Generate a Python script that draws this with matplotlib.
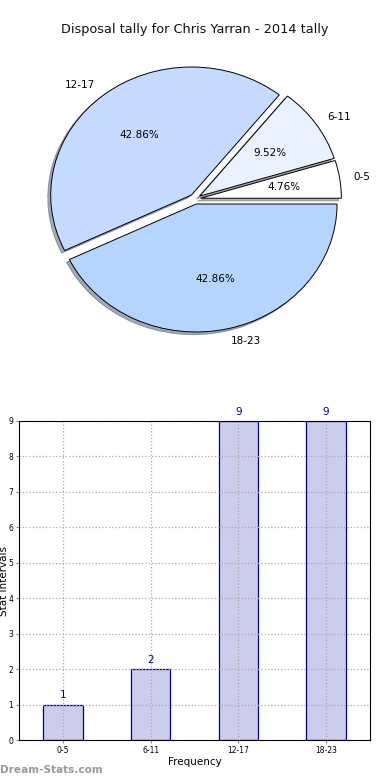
import matplotlib
matplotlib.use("Agg")
import matplotlib.pyplot as plt

intervals = ["0-5", "6-11", "12-17", "18-23"]
counts = [1, 2, 9, 9]
pie_colors = ["#ffffff", "#eaf1ff", "#c6daff", "#b5d5ff"]

fig = plt.figure(figsize=(3.9, 7.8), dpi=100)

fig.text(0.5, 1 - 30 / 780, "Disposal tally for Chris Yarran - 2014 tally",
         ha="center", va="center", fontsize=9.3, color="#111111")

# pie
ax1 = fig.add_axes([19 / 390, 1 - 359 / 780, 352 / 390, 320 / 780])
wedges, texts, autotexts = ax1.pie(counts, labels=intervals, colors=pie_colors,
                                   explode=[0.04] * 4, autopct="%.2f%%",
                                   shadow=dict(ox=-0.015, oy=-0.015, shade=0.6),
                                   startangle=0, counterclock=True,
                                   wedgeprops=dict(edgecolor="black", linewidth=0.7),
                                   textprops=dict(fontsize=7.5))
ax1.set_aspect("auto")
ax1.set_xlim(-1.25, 1.25)
ax1.set_ylim(-1.25, 1.25)

# bars
ax2 = fig.add_axes([19 / 390, 40 / 780, 351 / 390, 319 / 780])
x = range(len(intervals))
ax2.bar(x, counts, width=0.45, color="#ccccec", edgecolor="#000080", linewidth=0.9,
        zorder=1)
for i, c in zip(x, counts):
    ax2.text(i, c + 0.12, str(c), ha="center", va="bottom", fontsize=7.5, color="#000080")
ax2.set_xlim(-0.5, 3.5)
ax2.set_ylim(0, 9)
ax2.set_xticks(list(x))
ax2.set_xticklabels(intervals)
ax2.set_yticks(range(10))
ax2.tick_params(labelsize=5.5, length=2, color="#888888", pad=2)
ax2.set_axisbelow("line")
ax2.grid(True, linestyle=":", color="#aaaaaa", linewidth=0.9)
ax2.set_xlabel("Frequency", fontsize=7.5, labelpad=2)
ax2.set_ylabel("Stat Intervals", fontsize=7.5)
ax2.yaxis.set_label_coords(-0.028, 0.5)

fig.text(0.0, 1 - 770 / 780, "Dream-Stats.com", ha="left", va="center",
         fontsize=7.6, color="#999999", fontweight="bold")

fig.savefig("out.png", dpi=100)
